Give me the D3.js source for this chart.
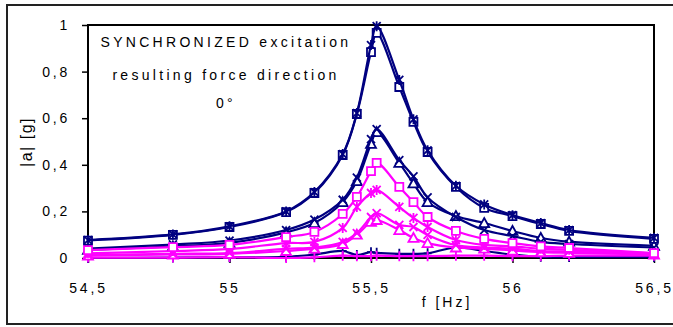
<!DOCTYPE html>
<html>
<head>
<meta charset="utf-8">
<script src="https://cdn.jsdelivr.net/npm/d3@7"></script>
<style>
  body { margin: 0; background: #fff; }
  text { font-family: "Liberation Sans", Arial, sans-serif; fill: #000; }
</style>
</head>
<body>
<div id="chart"></div>
<script>
// frequencies (Hz)
const freqs = [54.5, 54.8, 55.0, 55.2, 55.3, 55.4, 55.45, 55.5, 55.52, 55.6, 55.65, 55.7, 55.8, 55.9, 56.0, 56.1, 56.2, 56.5];

// navy series
const navySquare = [0.075, 0.099, 0.133, 0.197, 0.279, 0.442, 0.618, 0.884, 0.966, 0.734, 0.584, 0.455, 0.305, 0.215, 0.180, 0.146, 0.116, 0.082];
const navyStar   = [0.077, 0.101, 0.136, 0.200, 0.283, 0.446, 0.622, 0.914, 0.995, 0.764, 0.595, 0.462, 0.310, 0.230, 0.184, 0.150, 0.120, 0.086];
const navyTri    = [0.035, 0.050, 0.065, 0.110, 0.150, 0.240, 0.330, 0.490, 0.540, 0.408, 0.320, 0.240, 0.180, 0.150, 0.116, 0.086, 0.070, 0.052];
const navyX      = [0.040, 0.058, 0.075, 0.120, 0.165, 0.250, 0.345, 0.510, 0.553, 0.420, 0.350, 0.260, 0.176, 0.120, 0.094, 0.069, 0.060, 0.045];
const navyPlus   = [0.000, 0.002, 0.003, 0.005, 0.015, 0.030, 0.013, 0.025, 0.022, 0.018, 0.018, 0.020, 0.045, 0.030, 0.015, 0.005, 0.004, 0.004];

// magenta series
const magSquare = [0.034, 0.047, 0.056, 0.090, 0.112, 0.189, 0.262, 0.373, 0.408, 0.305, 0.240, 0.176, 0.116, 0.082, 0.064, 0.050, 0.043, 0.021];
const magStar   = [0.020, 0.030, 0.039, 0.064, 0.069, 0.129, 0.219, 0.279, 0.292, 0.219, 0.172, 0.133, 0.077, 0.056, 0.050, 0.040, 0.035, 0.020];
const magX      = [0.012, 0.018, 0.021, 0.039, 0.045, 0.069, 0.107, 0.176, 0.193, 0.142, 0.133, 0.099, 0.055, 0.045, 0.040, 0.030, 0.028, 0.018];
const magTri    = [0.010, 0.015, 0.018, 0.030, 0.040, 0.060, 0.100, 0.155, 0.163, 0.120, 0.086, 0.064, 0.045, 0.040, 0.032, 0.025, 0.022, 0.015];
const magPlus   = [0.002, 0.002, 0.004, 0.000, 0.003, 0.010, 0.008, 0.008, 0.010, 0.008, 0.008, 0.008, 0.010, 0.010, 0.008, 0.008, 0.010, 0.010];

const xTicks = [54.5, 55, 55.5, 56, 56.5];
const yTicks = [0, 0.2, 0.4, 0.6, 0.8, 1];
const titleLines = ['SYNCHRONIZED excitation', 'resulting force direction', '0°'];

const NAVY = '#000080', MAGENTA = '#ff00ff';
const series = [
  { values: navyPlus, color: NAVY, marker: 'plus' },
  { values: navyTri, color: NAVY, marker: 'triangle' },
  { values: navyX, color: NAVY, marker: 'x' },
  { values: navySquare, color: NAVY, marker: 'square' },
  { values: navyStar, color: NAVY, marker: 'star' },
  { values: magPlus, color: MAGENTA, marker: 'plus' },
  { values: magTri, color: MAGENTA, marker: 'triangle' },
  { values: magX, color: MAGENTA, marker: 'x' },
  { values: magStar, color: MAGENTA, marker: 'star' },
  { values: magSquare, color: MAGENTA, marker: 'square' }
];

const width = 673, height = 327;
const plot = { left: 88, right: 654, top: 25, bottom: 258 };
const fmt = v => String(v).replace('.', ',');

const svg = d3.select('#chart').append('svg')
  .attr('width', width)
  .attr('height', height);

// outer frame
svg.append('rect')
  .attr('x', 7).attr('y', 5)
  .attr('width', 680).attr('height', 319)
  .attr('fill', 'none')
  .attr('stroke', '#222')
  .attr('stroke-width', 2);

const x = d3.scaleLinear().domain([54.5, 56.5]).range([plot.left, plot.right]);
const y = d3.scaleLinear().domain([0, 1]).range([plot.bottom, plot.top]);

// plot area border
svg.append('rect')
  .attr('x', plot.left).attr('y', plot.top)
  .attr('width', plot.right - plot.left).attr('height', plot.bottom - plot.top)
  .attr('fill', 'none')
  .attr('stroke', '#000')
  .attr('stroke-width', 2);

// axes
const yAxis = svg.append('g')
  .attr('transform', `translate(${plot.left},0)`)
  .call(d3.axisLeft(y).tickValues(yTicks).tickSize(6).tickPadding(12).tickFormat(fmt));
const xAxis = svg.append('g')
  .attr('transform', `translate(0,${plot.bottom})`)
  .call(d3.axisBottom(x).tickValues(xTicks).tickSize(5).tickPadding(20).tickFormat(fmt));
[yAxis, xAxis].forEach(g => {
  g.select('.domain').remove();
  g.selectAll('line').attr('stroke', '#000').attr('stroke-width', 1.5);
  g.selectAll('text')
    .style('font-family', '"Liberation Sans", Arial, sans-serif')
    .style('font-size', '14px')
    .style('letter-spacing', '2.8px')
    .attr('fill', '#000');
});

// marker paths
const markerPath = (type, s) => {
  switch (type) {
    case 'square': return `M${-s},${-s}h${2 * s}v${2 * s}h${-2 * s}Z`;
    case 'triangle': return `M0,${-s - 1}L${s + 1},${s}L${-s - 1},${s}Z`;
    case 'x': return `M${-s},${-s}L${s},${s}M${-s},${s}L${s},${-s}`;
    case 'star': return `M${-s},${-s}L${s},${s}M${-s},${s}L${s},${-s}M0,${-s - 1}L0,${s + 1}`;
    case 'plus': return `M0,${-s - 1}L0,${s + 1}M${-s},0L${s},0`;
  }
};

const line = d3.line()
  .x(d => x(d[0]))
  .y(d => y(d[1]))
  .curve(d3.curveCatmullRom.alpha(0.5));

series.forEach(s => {
  const pts = freqs.map((f, i) => [f, s.values[i]]);
  const g = svg.append('g');
  g.append('path')
    .datum(pts)
    .attr('d', line)
    .attr('fill', 'none')
    .attr('stroke', s.color)
    .attr('stroke-width', 2.2);
  g.selectAll('path.mk')
    .data(pts)
    .enter()
    .append('path')
    .attr('class', 'mk')
    .attr('transform', d => `translate(${x(d[0])},${y(d[1])})`)
    .attr('d', markerPath(s.marker, 4))
    .attr('fill', (s.marker === 'square' || s.marker === 'triangle') ? '#fff' : 'none')
    .attr('stroke', s.color)
    .attr('stroke-width', 1.8);
});

// annotation
const ann = [47, 80, 108];
titleLines.forEach((t, i) => {
  svg.append('text')
    .attr('x', 226)
    .attr('y', ann[i])
    .attr('text-anchor', 'middle')
    .style('font-size', '14px')
    .style('letter-spacing', '3.3px')
    .text(t);
});

// axis titles
svg.append('text')
  .attr('x', 447)
  .attr('y', 307)
  .attr('text-anchor', 'middle')
  .style('font-size', '14px')
  .style('letter-spacing', '3px')
  .text('f [Hz]');

svg.append('text')
  .attr('transform', 'translate(32,142) rotate(-90)')
  .attr('text-anchor', 'middle')
  .style('font-size', '16px')
  .style('letter-spacing', '1.5px')
  .text('|a| [g]');
</script>
</body>
</html>
